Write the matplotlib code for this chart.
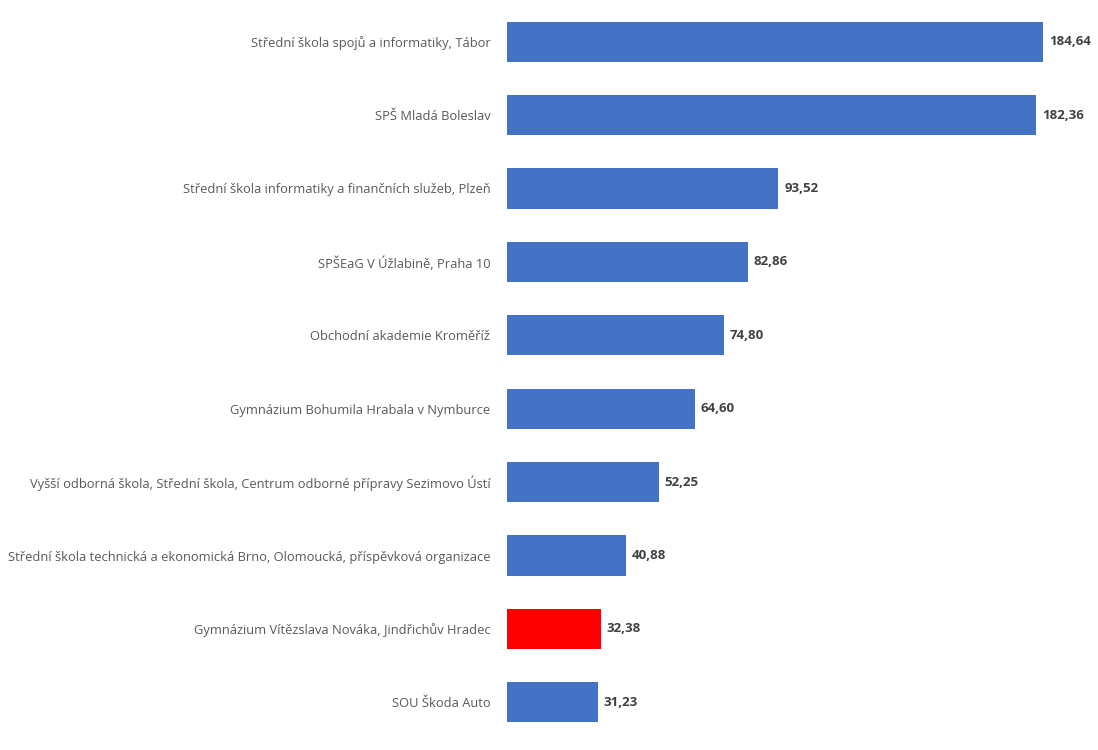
import matplotlib
matplotlib.use("Agg")
import matplotlib.pyplot as plt

plt.rcParams['font.family'] = ['Open Sans', 'DejaVu Sans']

# schools, top to bottom
schools = [
    "Střední škola spojů a informatiky, Tábor",
    "SPŠ Mladá Boleslav",
    "Střední škola informatiky a finančních služeb, Plzeň",
    "SPŠEaG V Úžlabině, Praha 10",
    "Obchodní akademie Kroměříž",
    "Gymnázium Bohumila Hrabala v Nymburce",
    "Vyšší odborná škola, Střední škola, Centrum odborné přípravy Sezimovo Ústí",
    "Střední škola technická a ekonomická Brno, Olomoucká, příspěvková organizace",
    "Gymnázium Vítězslava Nováka, Jindřichův Hradec",
    "SOU Škoda Auto",
]
values = [184.64, 182.36, 93.52, 82.86, 74.80, 64.60, 52.25, 40.88, 32.38, 31.23]
highlight = "Gymnázium Vítězslava Nováka, Jindřichův Hradec"

colors = ['#FF0000' if s == highlight else '#4472C4' for s in schools]

fig = plt.figure(figsize=(10.98, 7.5), dpi=100)
ax = fig.add_axes([507 / 1098, 11 / 750, 591 / 1098, 734 / 750])

ypos = list(range(len(schools)))
ax.barh(ypos, values, height=0.55, color=colors)
ax.set_ylim(len(schools) - 0.5, -0.5)
ax.set_xlim(0, 203.6)

ax.set_yticks(ypos)
ax.set_yticklabels(schools, fontsize=9.3, color='#595959')
ax.tick_params(axis='y', length=0, pad=12)
ax.set_xticks([])
for sp in ax.spines.values():
    sp.set_visible(False)

# value labels
for y, v in zip(ypos, values):
    ax.text(v + 2.0, y, f"{v:.2f}".replace('.', ','), va='center', ha='left',
            fontsize=9.5, fontweight='bold', color='#404040')

fig.savefig("out.png", dpi=100)
